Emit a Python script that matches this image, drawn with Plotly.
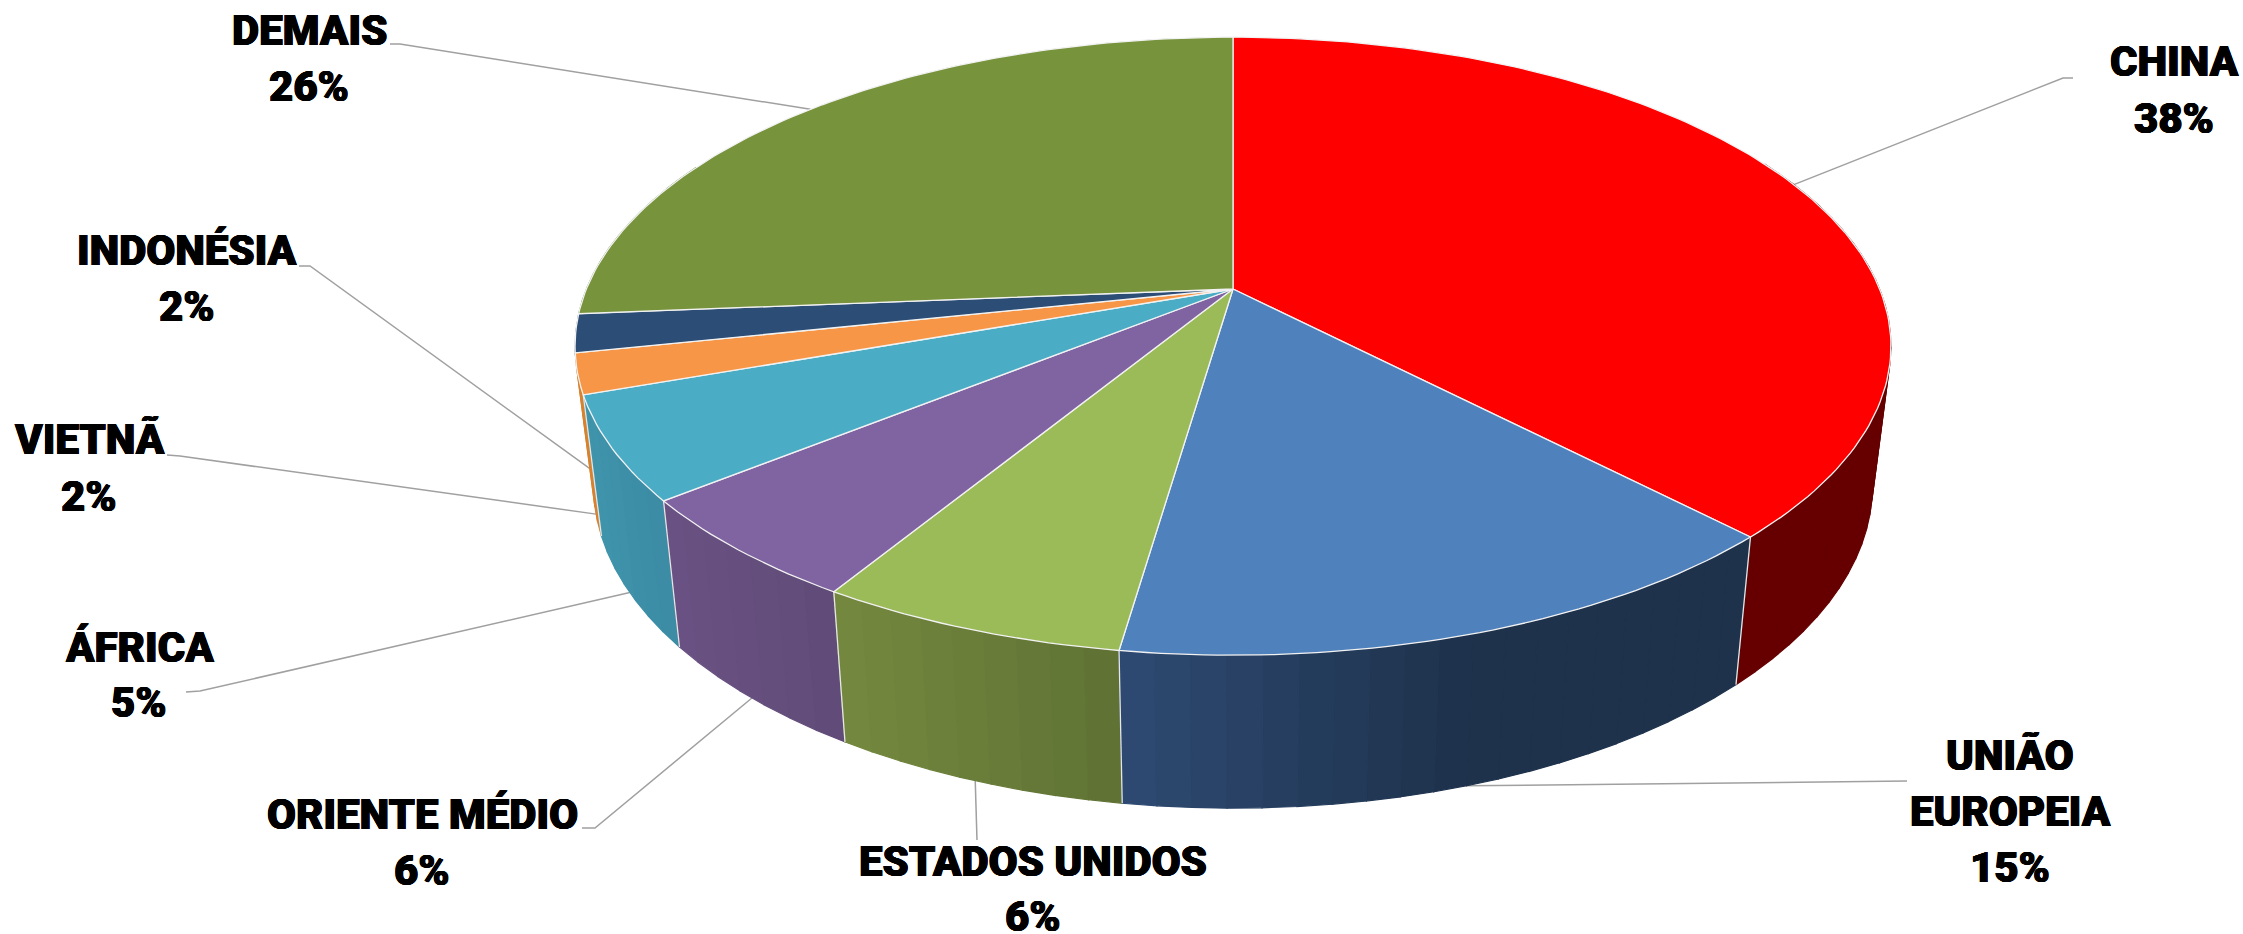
import numpy as np
import plotly.graph_objects as go

# ---------- data ----------
categories = ["CHINA", "UNIÃO<br>EUROPEIA", "ESTADOS UNIDOS", "ORIENTE MÉDIO", "ÁFRICA", "VIETNÃ", "INDONÉSIA", "DEMAIS"]
values = [37.8, 14.5, 6.4, 5.5, 5.4, 2.1, 2.0, 26.3]
pct_labels = ["38%", "15%", "6%", "6%", "5%", "2%", "2%", "26%"]

# ---------- style ----------
top_colors = ["#FF0000", "#4F81BD", "#9BBB59", "#8064A2", "#4BACC6", "#F79646", "#2C4D75", "#77933C"]
# side colour at left x, at right x, fraction of the width taken by the gradient
side_colors = [("#660000", "#660000", 1), ("#2E4B73", "#1E324C", .55), ("#75893F", "#5F7235", 1),
               ("#6A5384", "#614B77", 1), ("#4095AB", "#3B8BA4", 1), ("#D9822E", "#D9822E", 1),
               ("#264266", "#264266", 1), ("#66802F", "#66802F", 1)]
HEAVY = "0.6px 0 0 #000, -0.6px 0 0 #000, 0 0.4px 0 #000, 0 -0.4px 0 #000"
FONT = dict(family="Roboto", size=42, color="#000000", weight=900, shadow=HEAVY)
LEADER = "#A0A0A0"

# ---------- projection ----------
CX, CY, A, B, K = 1233, 289, 646.6, 298.4, .185
SX, DY_SLOPE, DY_ZERO = .972, .045, -2745


def top(theta):
    X, Y = np.sin(theta), np.cos(theta)
    d = 1 + K * Y
    return CX + A * X / d, CY - B * Y / d


def bottom(theta):
    x, y = top(theta)
    return CX + (x - CX) * SX, y + DY_SLOPE * (y - DY_ZERO)


def hex2rgb(h):
    return np.array([int(h[i:i + 2], 16) for i in (1, 3, 5)], float)


edges = np.cumsum([0] + values) / sum(values) * 2 * np.pi
fig = go.Figure()


def poly(xs, ys, fill, line=None, lw=0):
    fig.add_trace(go.Scatter(x=xs, y=ys, mode="lines", fill="toself", fillcolor=fill,
                             line=dict(color=line or fill, width=lw if line else 1.2),
                             hoverinfo="skip", showlegend=False))


# ---------- leader lines (under the body) ----------
leader_ends = [[(2063, 78), (2073, 78)], [(1907, 781)], [(977, 840)], [(595, 828), (582, 828)],
               [(200, 691), (186, 692)], [(180, 456), (167, 455)], [(310, 266), (299, 266)], [(400, 44), (390, 44)]]
leader_top_rim = [True, False, False, False, False, False, False, True]
for i, ends in enumerate(leader_ends):
    mid = (edges[i] + edges[i + 1]) / 2
    sx, sy = top(mid) if leader_top_rim[i] else bottom(mid)
    fig.add_trace(go.Scatter(x=[sx] + [e[0] for e in ends], y=[sy] + [e[1] for e in ends], mode="lines",
                             line=dict(color=LEADER, width=1.5), hoverinfo="skip", showlegend=False))

# ---------- side wall, far to near ----------
bands = []
for i in range(len(values)):
    t0, t1 = edges[i], edges[i + 1]
    n = max(2, int(np.degrees(t1 - t0) / 2.5))
    ts = np.linspace(t0, t1, n + 1)
    xl, xr = top(t0)[0], top(t1)[0]
    lo, hi = min(xl, xr), max(xl, xr)
    cl, cr, frac = side_colors[i]
    for j in range(n):
        a, b = ts[j], ts[j + 1]
        if -np.cos((a + b) / 2) < -.45:   # back of the wall is never seen
            continue
        f = min(1, ((top((a + b) / 2)[0] - lo) / max(hi - lo, 1)) / frac)
        c = hex2rgb(cl) * (1 - f) + hex2rgb(cr) * f
        bands.append((-np.cos((a + b) / 2), a, b, "rgb(%d,%d,%d)" % tuple(c)))
for _, a, b, col in sorted(bands, key=lambda r: r[0]):
    xa, ya = top(a)
    xb, yb = top(b)
    xc, yc = bottom(b)
    xd, yd = bottom(a)
    poly([xa, xb, xc, xd, xa], [ya, yb, yc, yd, ya], col)

# slice separators on the wall
for t in edges[1:6]:
    xa, ya = top(t)
    xb, yb = bottom(t)
    fig.add_trace(go.Scatter(x=[xa, xb], y=[ya, yb], mode="lines", line=dict(color="#E6E6E6", width=1.3),
                             hoverinfo="skip", showlegend=False))

# ---------- top face ----------
for i in range(len(values)):
    ts = np.linspace(edges[i], edges[i + 1], max(3, int(np.degrees(edges[i + 1] - edges[i]))))
    x, y = top(ts)
    poly([CX, *x, CX], [CY, *y, CY], top_colors[i], "#F2F2F2", 1.3)

# ---------- labels ----------
label_x = [2174, 2010, 1033, 422, 139, 89, 187, 309]
label_y = [[61, 118], [755, 811, 867], [861, 916], [814, 870], [647, 702], [439, 496], [250, 306], [30, 86]]
for i, cat in enumerate(categories):
    lines = cat.split("<br>") + [pct_labels[i]]
    for txt, yy in zip(lines, label_y[i]):
        fig.add_annotation(x=label_x[i], y=yy, text=txt, showarrow=False, font=FONT,
                           xanchor="center", yanchor="middle")

fig.update_layout(width=2243, height=934, margin=dict(l=0, r=0, t=0, b=0), paper_bgcolor="white",
                  plot_bgcolor="white", showlegend=False,
                  xaxis=dict(range=[0, 2243], visible=False, fixedrange=True),
                  yaxis=dict(range=[934, 0], visible=False, fixedrange=True))
fig.write_html("out.html", post_script="document.body.style.margin='0';", config=dict(displayModeBar=False))
